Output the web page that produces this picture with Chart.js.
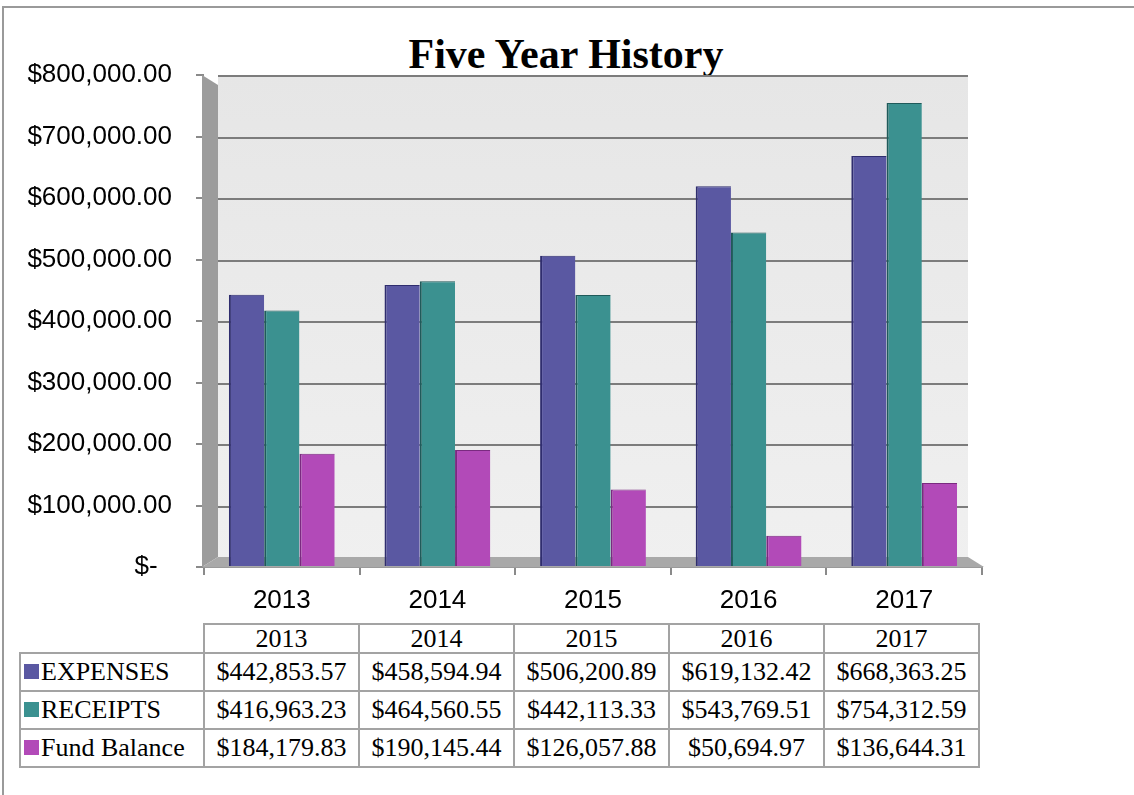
<!DOCTYPE html>
<html>
<head>
<meta charset="utf-8">
<script src="https://cdn.jsdelivr.net/npm/chart.js@4.4.1/dist/chart.umd.min.js"></script>
<style>
  body { margin: 0; background: #fff; }
  #frame {
    position: absolute; left: 2px; top: 6px; width: 1200px; height: 900px;
    border-left: 2px solid #9a9a9a; border-top: 2px solid #9a9a9a;
  }
  #title {
    position: absolute; left: 316px; top: 33px; width: 500px; text-align: center;
    font: bold 42px/42px "Liberation Serif", "Times New Roman", serif; color: #000;
  }
  #chart-box { position: absolute; left: 0; top: 0; width: 1134px; height: 615px; }
  #data-table {
    position: absolute; left: 19px; top: 623px;
    border-collapse: collapse;
    font: 26px "Liberation Serif", "Times New Roman", serif; color: #000;
  }
  #data-table td { border: 2px solid #a3a3a3; padding: 0; text-align: center; height: 36px; }
  #data-table tr.head td { height: 27px; line-height: 27px; }
  #data-table td.blank { border-top: none; border-left: none; }
  #data-table td.name { text-align: left; padding-left: 3px; white-space: nowrap; }
  .swatch { display: inline-block; width: 15px; height: 15px; margin-right: 2px; vertical-align: 1px; }
</style>
</head>
<body>
<div id="frame"></div>
<div id="title">Five Year History</div>
<div id="chart-box"><canvas id="history-chart" width="1134" height="615"></canvas></div>
<table id="data-table"></table>
<script>
// Chart data
const years = ['2013', '2014', '2015', '2016', '2017'];
const seriesNames = ['EXPENSES', 'RECEIPTS', 'Fund Balance'];
const expenses = [442853.57, 458594.94, 506200.89, 619132.42, 668363.25];
const receipts = [416963.23, 464560.55, 442113.33, 543769.51, 754312.59];
const fundBalance = [184179.83, 190145.44, 126057.88, 50694.97, 136644.31];
const seriesColors = ['#5a58a2', '#3b9190', '#b24ab8'];
const edgeColors = ['#2f2d6e', '#1f5a5a', '#7a2a80'];

function money(v) {
  return '$' + v.toLocaleString('en-US', { minimumFractionDigits: 2, maximumFractionDigits: 2 });
}

// Build the data table under the chart
const table = document.getElementById('data-table');
const colWidths = [183, 155, 155, 155, 155, 155];
let html = '<tr class="head"><td class="blank" style="width:' + colWidths[0] + 'px"></td>';
years.forEach((y, i) => {
  html += '<td style="width:' + (colWidths[i + 1] - 2) + 'px">' + y + '</td>';
});
html += '</tr>';
[expenses, receipts, fundBalance].forEach((values, s) => {
  html += '<tr><td class="name"><span class="swatch" style="background:' + seriesColors[s] + '"></span>' + seriesNames[s] + '</td>';
  values.forEach(v => { html += '<td>' + money(v) + '</td>'; });
  html += '</tr>';
});
table.innerHTML = html;

// Draws the grey 3D walls and the grid lines on the back wall
const wallPlugin = {
  id: 'wall',
  beforeDatasetsDraw(chart) {
    const ctx = chart.ctx;
    const area = chart.chartArea;
    const yScale = chart.scales.y;
    const depth = 14;
    ctx.save();
    // back wall
    const grad = ctx.createLinearGradient(0, area.top, 0, area.bottom);
    grad.addColorStop(0, '#e6e6e6');
    grad.addColorStop(1, '#f0f0f0');
    ctx.fillStyle = grad;
    ctx.fillRect(area.left + depth, area.top, area.right - area.left - depth * 2, area.bottom - area.top);
    // left wall
    ctx.fillStyle = '#9c9c9c';
    ctx.beginPath();
    ctx.moveTo(area.left - 2, area.top);
    ctx.lineTo(area.left + depth, area.top + 10);
    ctx.lineTo(area.left + depth, area.bottom - 10);
    ctx.lineTo(area.left - 2, area.bottom);
    ctx.closePath();
    ctx.fill();
    // floor
    ctx.fillStyle = '#a9a9a9';
    ctx.beginPath();
    ctx.moveTo(area.left - 2, area.bottom);
    ctx.lineTo(area.left + depth, area.bottom - 10);
    ctx.lineTo(area.right - depth, area.bottom - 10);
    ctx.lineTo(area.right + 2, area.bottom);
    ctx.closePath();
    ctx.fill();
    // grid lines
    ctx.strokeStyle = '#7c7c7c';
    ctx.lineWidth = 2;
    yScale.ticks.forEach(t => {
      if (t.value === 0) return;
      const y = Math.round(yScale.getPixelForValue(t.value)) + 1;
      ctx.beginPath();
      ctx.moveTo(area.left + depth, y);
      ctx.lineTo(area.right - depth, y);
      ctx.stroke();
    });
    ctx.restore();
  }
};

const datasets = [expenses, receipts, fundBalance].map((values, i) => ({
  label: seriesNames[i],
  data: values,
  backgroundColor: seriesColors[i],
  borderColor: edgeColors[i],
  borderWidth: { left: 2, top: 1, right: 0, bottom: 0 },
  borderSkipped: false
}));

new Chart(document.getElementById('history-chart').getContext('2d'), {
  type: 'bar',
  data: { labels: years, datasets: datasets },
  options: {
    responsive: false,
    animation: false,
    layout: { padding: { left: 0, right: 152, top: 75, bottom: 0 } },
    datasets: { bar: { barPercentage: 1, categoryPercentage: 0.68 } },
    plugins: {
      legend: { display: false },
      tooltip: { enabled: false },
      title: { display: false }
    },
    scales: {
      x: {
        grid: { drawOnChartArea: false, drawTicks: true, tickLength: 8, color: '#8a8a8a', lineWidth: 2 },
        border: { display: true, color: '#9a9a9a', width: 2 },
        ticks: {
          color: '#000', padding: 10,
          font: { family: '"Liberation Sans", Arial, sans-serif', size: 26 }
        },
        afterFit(scale) { scale.height = 48; }
      },
      y: {
        min: 0,
        max: 800000,
        grid: { drawOnChartArea: false, drawTicks: true, tickLength: 8, color: '#8a8a8a', lineWidth: 2 },
        border: { display: false },
        ticks: {
          stepSize: 100000,
          color: '#000',
          padding: 24,
          font: { family: '"Liberation Sans", Arial, sans-serif', size: 26 },
          callback: function(value) {
            return value === 0 ? '$-  ' : money(value);
          }
        },
        afterFit(scale) { scale.width = 204; }
      }
    }
  },
  plugins: [wallPlugin]
});
</script>
</body>
</html>
